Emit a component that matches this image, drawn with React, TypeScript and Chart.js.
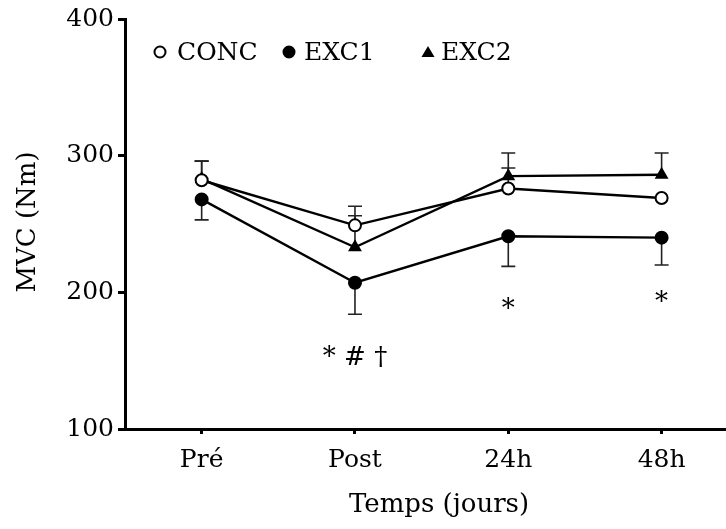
import React, { useEffect, useRef } from "react";
import { Chart, registerables } from "chart.js";

Chart.register(...registerables);

const categories = ["Pré", "Post", "24h", "48h"];
const concMean = [282, 249, 276, 269];
const concSd = [14, 14, 15, 0];
const exc1Mean = [268, 207, 241, 240];
const exc1Sd = [15, 23, 22, 20];
const exc2Mean = [283, 233, 285, 286];
const exc2Sd = [13, 23, 17, 16];
const yTicks = [100, 200, 300, 400];
const sigIndex = [1, 2, 3];
const sigLabels = ["* # †", "*", "*"];
const sigY = [152, 187, 192];
const legendLabels = ["CONC", "EXC1", "EXC2"];
const yTitle = "MVC (Nm)";
const xTitle = "Temps (jours)";

const FONT = "'DejaVu Serif', serif";

export default function App() {
  const ref = useRef<HTMLCanvasElement | null>(null);
  useEffect(() => {
    document.body.style.margin = "0";
    const ctx = ref.current!.getContext("2d")!;
    const toPts = (arr: number[]) => arr.map((y, i) => ({ x: i, y }));

    const errorBars = {
      id: "errorBars",
      beforeDatasetsDraw(chart: any) {
        const c = chart.ctx;
        const xs = chart.scales.x;
        const ys = chart.scales.y;
        const groups = [
          { m: concMean, s: concSd, dir: 1 },
          { m: exc2Mean, s: exc2Sd, dir: 1 },
          { m: exc1Mean, s: exc1Sd, dir: -1 },
        ];
        c.save();
        c.strokeStyle = "#222";
        c.lineWidth = 1.6;
        groups.forEach((g) => {
          g.m.forEach((v, i) => {
            if (!g.s[i]) return;
            const px = xs.getPixelForValue(i);
            const p0 = ys.getPixelForValue(v);
            const p1 = ys.getPixelForValue(v + g.dir * g.s[i]);
            c.beginPath();
            c.moveTo(px, p0);
            c.lineTo(px, p1);
            c.moveTo(px - 7, p1);
            c.lineTo(px + 7, p1);
            c.stroke();
          });
        });
        c.restore();
      },
      afterDraw(chart: any) {
        const c = chart.ctx;
        const xs = chart.scales.x;
        const ys = chart.scales.y;
        c.save();
        c.fillStyle = "#000";
        // significance marks
        c.font = `26px ${FONT}`;
        c.textAlign = "center";
        c.textBaseline = "middle";
        sigIndex.forEach((idx, k) => {
          c.fillText(sigLabels[k], xs.getPixelForValue(idx), ys.getPixelForValue(sigY[k]));
        });
        // legend
        const ly = 52;
        const markerX = [160, 289, 428];
        const textX = [177, 304, 441];
        c.textAlign = "left";
        c.font = `25px ${FONT}`;
        legendLabels.forEach((lab, k) => {
          const mx = markerX[k];
          c.lineWidth = 2;
          c.strokeStyle = "#000";
          c.beginPath();
          if (k === 2) {
            c.moveTo(mx, ly - 6);
            c.lineTo(mx + 6.5, ly + 5);
            c.lineTo(mx - 6.5, ly + 5);
            c.closePath();
            c.fillStyle = "#000";
            c.fill();
          } else {
            c.arc(mx, ly, 5.5, 0, Math.PI * 2);
            c.fillStyle = k === 0 ? "#fff" : "#000";
            c.fill();
            c.stroke();
          }
          c.fillStyle = "#000";
          c.fillText(lab, textX[k], ly + 1);
        });
        // axis titles
        c.font = `26px ${FONT}`;
        c.textAlign = "center";
        c.fillText(xTitle, 439, 505);
        c.translate(28, 222);
        c.rotate(-Math.PI / 2);
        c.fillText(yTitle, 0, 0);
        c.restore();
      },
    };

    const common = { borderColor: "#000", borderWidth: 2.4, pointBorderColor: "#000", pointBorderWidth: 2, pointRadius: 6 };
    const chart = new Chart(ctx, {
      type: "line",
      data: {
        datasets: [
          { label: "CONC", data: toPts(concMean), ...common, pointStyle: "circle", pointBackgroundColor: "#fff" },
          { label: "EXC1", data: toPts(exc1Mean), ...common, pointStyle: "circle", pointBackgroundColor: "#000" },
          { label: "EXC2", data: toPts(exc2Mean), ...common, pointStyle: "triangle", pointBackgroundColor: "#000", pointRadius: 6 },
        ],
      },
      options: {
        animation: false,
        responsive: false,
        layout: { autoPadding: false, padding: { top: 19, right: 0, left: 0, bottom: 0 } },
        plugins: { legend: { display: false }, tooltip: { enabled: false } },
        scales: {
          x: {
            type: "linear",
            min: -0.5,
            max: 3.42,
            afterBuildTicks: (s: any) => {
              s.ticks = categories.map((_, i) => ({ value: i }));
            },
            afterFit: (s: any) => {
              s.height = 100;
              s.paddingRight = 0;
              s.paddingLeft = 0;
            },
            ticks: {
              callback: (v: any) => categories[v] ?? "",
              color: "#000",
              font: { family: FONT, size: 25 },
              padding: 11,
              maxRotation: 0,
            },
            grid: { drawOnChartArea: false, drawTicks: true, tickLength: 5, color: "#000", lineWidth: 3 },
            border: { display: true, color: "#000", width: 3 },
          },
          y: {
            min: 100,
            max: 400,
            afterBuildTicks: (s: any) => {
              s.ticks = yTicks.map((v) => ({ value: v }));
            },
            afterFit: (s: any) => {
              s.width = 125;
            },
            ticks: { color: "#000", font: { family: FONT, size: 25 }, padding: 4 },
            grid: { drawOnChartArea: false, drawTicks: true, tickLength: 7, color: "#000", lineWidth: 3 },
            border: { display: true, color: "#000", width: 3 },
          },
        },
      },
      plugins: [errorBars],
    });
    return () => chart.destroy();
  }, []);
  return (
    <div style={{ width: 726, height: 529, background: "#fff" }}>
      <canvas ref={ref} width={726} height={529} />
    </div>
  );
}
